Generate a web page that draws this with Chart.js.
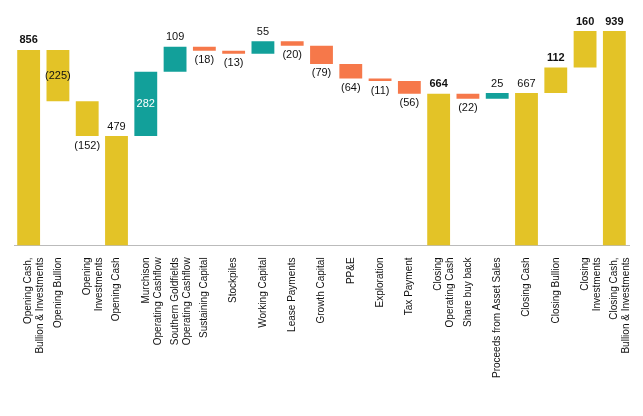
<!DOCTYPE html>
<html><head><meta charset="utf-8">
<script src="https://cdn.jsdelivr.net/npm/chart.js@4.4.0/dist/chart.umd.min.js"></script>
<style>html,body{margin:0;padding:0;background:#fff}#w{width:643px;height:416px}</style>
</head><body><div id="w"><canvas id="c"></canvas></div>
<script>
const categories = [
 ["Opening Cash,","Bullion & Investments"],["Opening Bullion"],["Opening","Investments"],["Opening Cash"],
 ["Murchison","Operating Cashflow"],["Southern Goldfields","Operating Cashflow"],["Sustaining Capital"],["Stockpiles"],
 ["Working Capital"],["Lease Payments"],["Growth Capital"],["PP&E"],["Exploration"],["Tax Payment"],
 ["Closing","Operating Cash"],["Share buy back"],["Proceeds from Asset Sales"],["Closing Cash"],["Closing Bullion"],
 ["Closing","Investments"],["Closing Cash,","Bullion & Investments"]];
// change values; null = total bar
const changes = [856,-225,-152,null,282,109,-18,-13,55,-20,-79,-64,-11,-56,null,-22,25,null,112,160,null];
const goldSteps = [1,2,18,19];
const totalsBold = [true,false,false,false,false,false,false,false,false,false,false,false,false,false,true,false,false,false,true,true,true];
const GOLD="#E3C327", ORANGE="#F6784A", TEAL="#12A09A";
let run=0; const bars=[], colors=[], labels=[];
changes.forEach((v,i)=>{
  if(i===0){bars.push([0,v]);run=v;colors.push(GOLD);labels.push(String(v));return;}
  if(v===null){bars.push([0,run]);colors.push(GOLD);labels.push(String(run));return;}
  const s=run; run+=v; bars.push([Math.min(s,run),Math.max(s,run)]);
  if(goldSteps.includes(i)){colors.push(GOLD);}else colors.push(v<0?ORANGE:TEAL);
  labels.push(v<0?"("+(-v)+")":String(v));
});
const lblPlugin={id:"lbl",afterDatasetsDraw(ch){
  const ctx=ch.ctx, meta=ch.getDatasetMeta(0);
  meta.data.forEach((b,i)=>{
    const top=Math.min(b.y,b.base), bot=Math.max(b.y,b.base), h=bot-top;
    const v=changes[i]; let y, col="#111";
    ctx.font=(totalsBold[i]?"bold ":"")+"11px 'Liberation Sans', Arial";
    ctx.textAlign="center";
    if(v!==null && v<0){ if(h>45){y=(top+bot)/2;ctx.textBaseline="middle";} else {y=bot+4;ctx.textBaseline="top";} }
    else if(v!==null && h>25 && colors[i]===TEAL){y=(top+bot)/2;ctx.textBaseline="middle";col="#fff";}
    else {y=top-4;ctx.textBaseline="bottom";}
    ctx.fillStyle=col; ctx.fillText(labels[i],b.x,y);
  });
}};
new Chart(document.getElementById("c"),{type:"bar",
 data:{labels:categories,datasets:[{data:bars,backgroundColor:colors,barPercentage:0.78,categoryPercentage:1}]},
 options:{responsive:true,maintainAspectRatio:false,animation:false,
  layout:{padding:{top:31,left:14,right:14,bottom:34}},
  plugins:{legend:{display:false},tooltip:{enabled:false}},
  scales:{y:{display:false,min:0,max:939},
   x:{grid:{display:false},border:{color:"#bbb"},
    ticks:{minRotation:90,maxRotation:90,autoSkip:false,color:"#111",font:{size:10,family:"'Liberation Sans', Arial"},padding:4}}}},
 plugins:[lblPlugin]});
</script></body></html>
